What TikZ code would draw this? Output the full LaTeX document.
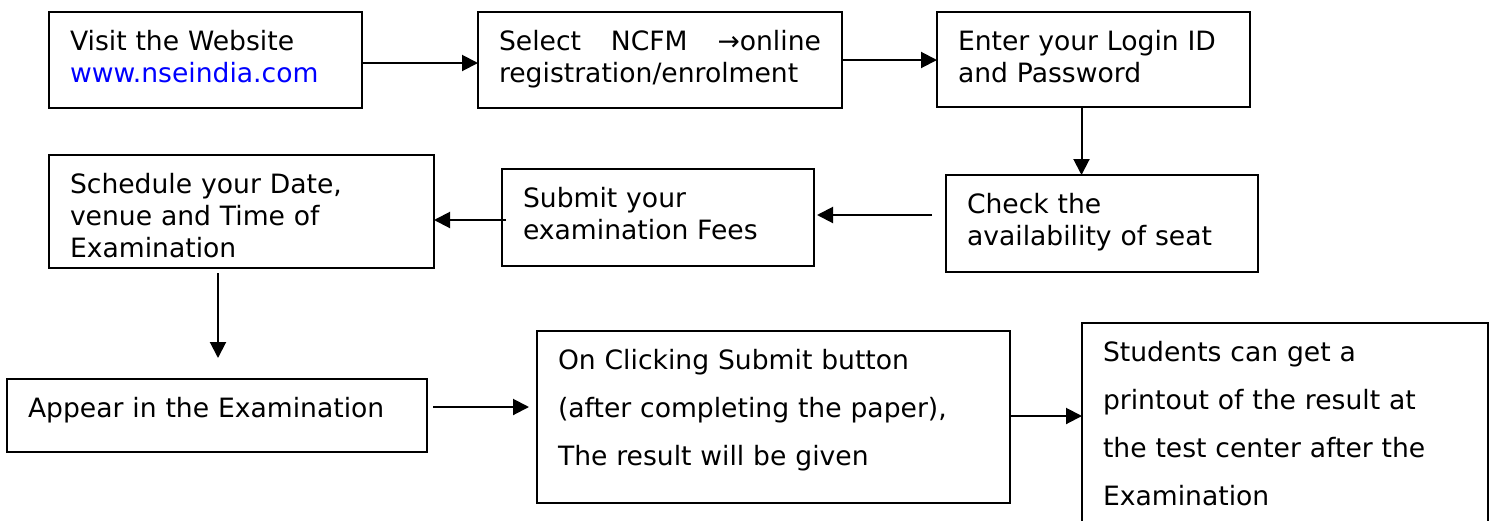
\documentclass[tikz,border=0pt]{standalone}
\usepackage{fontspec}
\setmainfont{DejaVu Sans}
\usetikzlibrary{arrows.meta}

\begin{document}
\begin{tikzpicture} [x=1pt, y=-1pt, line width=2pt,
    stepbox/.style={draw, anchor=north west, align=left, outer sep=0pt,
        inner xsep=21pt, inner ysep=0pt, text height=38pt,
        font=\fontsize{26.6}{32}\selectfont},
    wide/.style={font=\fontsize{26.6}{48}\selectfont},
    flow/.style={-{Triangle[length=16pt,width=16pt]}}]

\useasboundingbox (0,0) rectangle (1492,520);

\node [stepbox, text width=271pt, text depth=58pt] (web) at (49,12)
    {Visit the Website\\ \textcolor{blue}{www.nseindia.com}};
\node [stepbox, text width=322pt, text depth=58pt] (ncfm) at (478,12)
    {Select\hfill NCFM\hfill →online\\ registration/enrolment};
\node [stepbox, text width=271pt, text depth=57pt] (login) at (937,12)
    {Enter your Login ID\\ and Password};

\node [stepbox, text width=270pt, text depth=59pt] (seat) at (946,175)
    {Check the\\ availability of seat};
\node [stepbox, text width=270pt, text depth=59pt] (fees) at (502,169)
    {Submit your\\ examination Fees};
\node [stepbox, text width=343pt, text depth=75pt] (date) at (49,155)
    {Schedule your Date,\\ venue and Time of\\ Examination};

\node [stepbox, text width=378pt, text depth=35pt] (exam) at (7,379)
    {Appear in the Examination};
\node [stepbox, wide, text width=431pt, text depth=134pt] (result) at (537,331)
    {On Clicking Submit button\\ (after completing the paper),\\ The result will be given};
\node [stepbox, wide, text width=364pt, text depth=182pt] (print) at (1082,323)
    {Students can get a\\ printout of the result at\\ the test center after the\\ Examination};

\draw [flow] ([yshift=-3pt]web.east) -- ([yshift=-3pt]web.east -| ncfm.west);
\draw [flow] (ncfm.east) -- (ncfm.east -| login.west);
\draw [flow] ([xshift=-12pt]login.south) -- ([xshift=-12pt]login.south |- seat.north);
\draw [flow, shorten >=3pt] ([xshift=-14pt,yshift=8.5pt]seat.west)
    -- ([yshift=8.5pt]seat.west -| fees.east);
\draw [flow] ([xshift=4pt,yshift=-2.5pt]fees.west) -- ([yshift=-2.5pt]fees.west -| date.east);
\draw [flow, shorten <=5pt, shorten >=21pt] ([xshift=-23.5pt]date.south)
    -- ([xshift=-23.5pt]date.south |- exam.north);
\draw [flow, shorten <=6pt, shorten >=8pt] ([yshift=8.5pt]exam.east)
    -- ([yshift=8.5pt]exam.east -| result.west);
\draw [flow] ([yshift=1pt]result.east) -- ([yshift=1pt]result.east -| print.west);

\end{tikzpicture}
\end{document}
